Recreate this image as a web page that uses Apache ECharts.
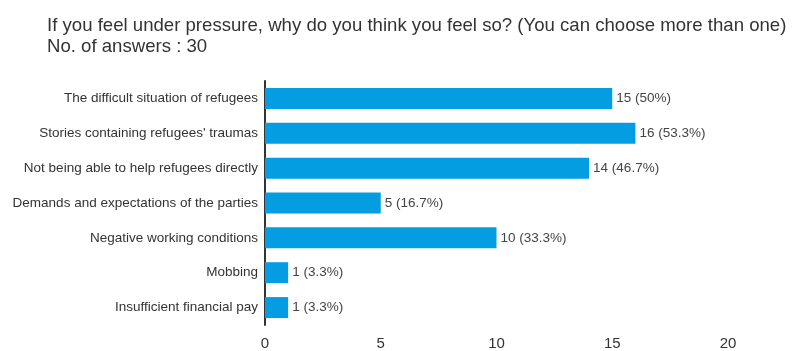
<!DOCTYPE html>
<html>
<head>
<meta charset="utf-8">
<script src="https://cdn.jsdelivr.net/npm/echarts@6/dist/echarts.min.js"></script>
<style>
html,body{margin:0;padding:0;background:#fff;}
#chart{width:792px;height:351px;}
</style>
</head>
<body>
<div id="chart"></div>
<script>
const titleLine1 = "If you feel under pressure, why do you think you feel so? (You can choose more than one)";
const titleLine2 = "No. of answers : 30";
const totalAnswers = 30;
const categories = [
  "The difficult situation of refugees",
  "Stories containing refugees' traumas",
  "Not being able to help refugees directly",
  "Demands and expectations of the parties",
  "Negative working conditions",
  "Mobbing",
  "Insufficient financial pay"
];
const counts = [15, 16, 14, 5, 10, 1, 1];
const xTicks = [0, 5, 10, 15, 20];

const chart = echarts.init(document.getElementById('chart'), null, {renderer: 'canvas'});
function pct(v) {
  let p = (v / totalAnswers * 100).toFixed(1);
  if (p.endsWith('.0')) p = p.slice(0, -2);
  return v + ' (' + p + '%)';
}
chart.setOption({
  animation: false,
  backgroundColor: '#ffffff',
  textStyle: {fontFamily: 'Liberation Sans, Arial, sans-serif'},
  title: {
    text: titleLine1 + '\n' + titleLine2,
    left: 42,
    top: 10,
    textStyle: {fontSize: 18.6, fontWeight: 'normal', color: '#333333', lineHeight: 21, fontFamily: 'Liberation Sans, Arial, sans-serif'}
  },
  grid: {left: 265, right: 64, top: 81, bottom: 22, containLabel: false},
  xAxis: {
    type: 'value',
    min: xTicks[0],
    max: xTicks[xTicks.length - 1],
    interval: 5,
    axisLine: {show: false},
    axisTick: {show: false},
    splitLine: {show: false},
    axisLabel: {color: '#333333', fontSize: 15, margin: 11}
  },
  yAxis: {
    type: 'category',
    inverse: true,
    data: categories,
    axisLine: {show: true, lineStyle: {color: '#333333', width: 2}},
    axisTick: {show: false},
    axisLabel: {color: '#333333', fontSize: 13.5, margin: 7}
  },
  series: [{
    type: 'bar',
    data: counts,
    barWidth: 21,
    itemStyle: {color: '#049de2'},
    label: {
      show: true,
      position: 'right',
      distance: 4,
      color: '#444444',
      fontSize: 13.5,
      formatter: p => pct(p.value)
    }
  }]
});
</script>
</body>
</html>
